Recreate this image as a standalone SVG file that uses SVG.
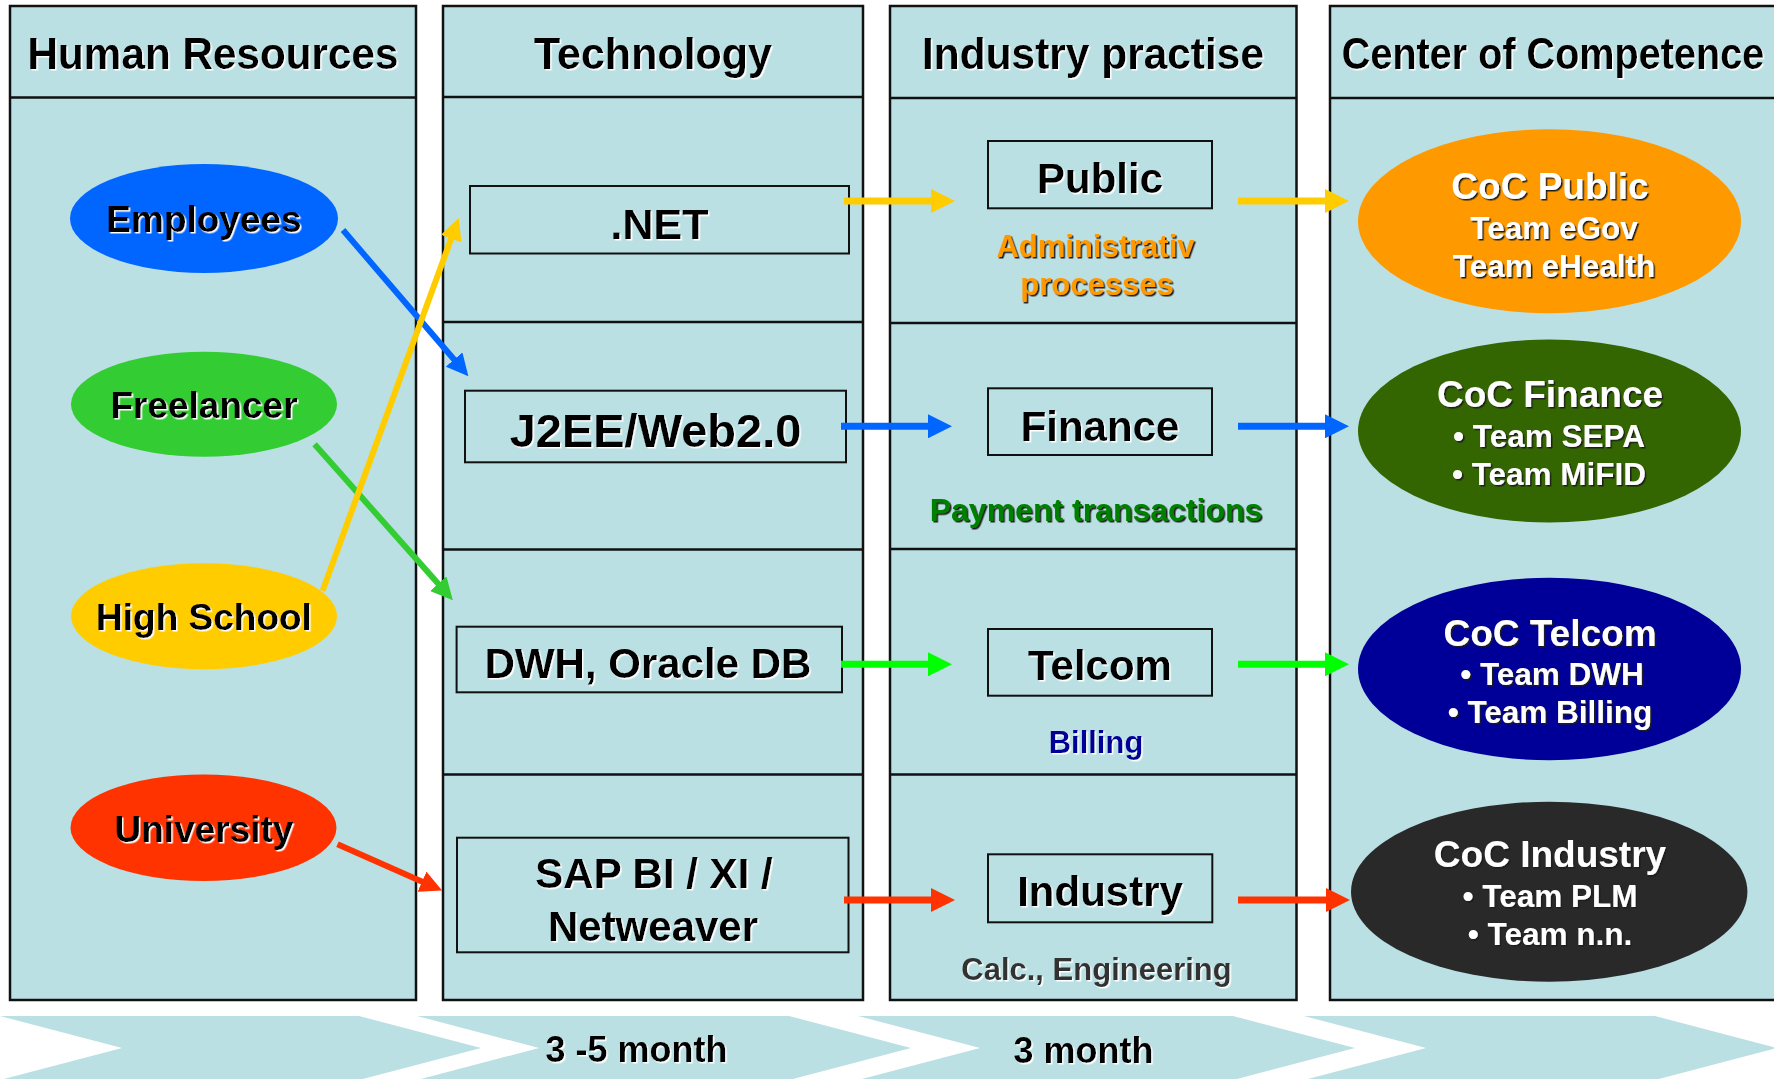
<svg xmlns="http://www.w3.org/2000/svg" width="1774" height="1079" viewBox="0 0 1774 1079">
<defs>
<style>
text{font-family:"Liberation Sans",Arial,sans-serif;font-weight:bold;text-anchor:middle}
.col{fill:#BAE0E3;stroke:#111;stroke-width:2.5}
.sep{stroke:#111;stroke-width:2.5;fill:none}
.box{fill:none;stroke:#111;stroke-width:2}
.chev{fill:#BAE0E3}
.hd{font-size:44px;fill:#000;filter:url(#sw)}
.el{font-size:37px;fill:#000;filter:url(#sw)}
.tb{fill:#000;filter:url(#sw)}
.sub{font-size:31px}
.cocT{font-size:37px;fill:#fff;filter:url(#sd)}
.cocL{font-size:31.5px;fill:#fff;filter:url(#sd)}
.bt{font-size:36px;fill:#000;filter:url(#sw)}
.ln{fill:none;stroke-width:6}
.hl{fill:none;stroke-width:7}
</style>
<filter id="sw" x="-5%" y="-20%" width="110%" height="150%"><feDropShadow dx="1.5" dy="1.5" stdDeviation="0" flood-color="#ffffff"/></filter>
<filter id="sd" x="-5%" y="-20%" width="110%" height="150%"><feDropShadow dx="1.5" dy="1.5" stdDeviation="0" flood-color="#1a1a1a"/></filter>
<marker id="mY" markerUnits="userSpaceOnUse" markerWidth="24" markerHeight="24" viewBox="0 0 24 24" refX="1" refY="12" orient="auto"><path d="M0,0 L24,12 L0,24 z" fill="#FFCC00"/></marker>
<marker id="mB" markerUnits="userSpaceOnUse" markerWidth="24" markerHeight="24" viewBox="0 0 24 24" refX="1" refY="12" orient="auto"><path d="M0,0 L24,12 L0,24 z" fill="#0066FF"/></marker>
<marker id="mG" markerUnits="userSpaceOnUse" markerWidth="24" markerHeight="24" viewBox="0 0 24 24" refX="1" refY="12" orient="auto"><path d="M0,0 L24,12 L0,24 z" fill="#00FF00"/></marker>
<marker id="mG2" markerUnits="userSpaceOnUse" markerWidth="22" markerHeight="22" viewBox="0 0 22 22" refX="1" refY="11" orient="auto"><path d="M0,0 L22,11 L0,22 z" fill="#33CC33"/></marker>
<marker id="mR" markerUnits="userSpaceOnUse" markerWidth="24" markerHeight="24" viewBox="0 0 24 24" refX="1" refY="12" orient="auto"><path d="M0,0 L24,12 L0,24 z" fill="#FF3300"/></marker>
<marker id="mY2" markerUnits="userSpaceOnUse" markerWidth="22" markerHeight="22" viewBox="0 0 22 22" refX="1" refY="11" orient="auto"><path d="M0,0 L22,11 L0,22 z" fill="#FFCC00"/></marker>
<marker id="mB2" markerUnits="userSpaceOnUse" markerWidth="22" markerHeight="22" viewBox="0 0 22 22" refX="1" refY="11" orient="auto"><path d="M0,0 L22,11 L0,22 z" fill="#0066FF"/></marker>
<marker id="mR2" markerUnits="userSpaceOnUse" markerWidth="22" markerHeight="22" viewBox="0 0 22 22" refX="1" refY="11" orient="auto"><path d="M0,0 L22,11 L0,22 z" fill="#FF3300"/></marker>
</defs>
<rect x="0" y="0" width="1774" height="1079" fill="#ffffff"/>

<g id="col-hr">
<rect class="col" x="10" y="6" width="406" height="994"/>
<line class="sep" x1="10" y1="97.5" x2="416" y2="97.5"/>
<text class="hd" x="213" y="69" textLength="371" lengthAdjust="spacingAndGlyphs">Human Resources</text>
</g>
<g id="col-tech">
<rect class="col" x="443" y="6" width="420" height="994"/>
<line class="sep" x1="443" y1="97" x2="863" y2="97"/>
<line class="sep" x1="443" y1="322" x2="863" y2="322"/>
<line class="sep" x1="443" y1="549.5" x2="863" y2="549.5"/>
<line class="sep" x1="443" y1="774.5" x2="863" y2="774.5"/>
<text class="hd" x="653" y="69" textLength="238" lengthAdjust="spacingAndGlyphs">Technology</text>
</g>
<g id="col-industry">
<rect class="col" x="890" y="6" width="406.5" height="994"/>
<line class="sep" x1="890" y1="98" x2="1296.5" y2="98"/>
<line class="sep" x1="890" y1="323" x2="1296.5" y2="323"/>
<line class="sep" x1="890" y1="549" x2="1296.5" y2="549"/>
<line class="sep" x1="890" y1="774.5" x2="1296.5" y2="774.5"/>
<text class="hd" x="1093" y="69" textLength="342" lengthAdjust="spacingAndGlyphs">Industry practise</text>
</g>
<g id="col-coc">
<rect class="col" x="1330" y="6" width="452" height="994"/>
<line class="sep" x1="1330" y1="98" x2="1782" y2="98"/>
<text class="hd" x="0" y="0" transform="translate(1553,69) scale(0.9,1)">Center of Competence</text>
</g>

<g id="timeline">
<polygon class="chev" points="0,1016 359,1016 481,1048 359,1080 0,1080 122,1048"/>
<polygon class="chev" points="417,1016 789,1016 911,1048 789,1080 417,1080 539,1048"/>
<polygon class="chev" points="858,1016 1233,1016 1355,1048 1233,1080 858,1080 980,1048"/>
<polygon class="chev" points="1304,1016 1655,1016 1777,1048 1655,1080 1304,1080 1426,1048"/>
<text class="bt" x="636.5" y="1062">3 -5 month</text>
<text class="bt" x="1083.5" y="1063">3 month</text>
</g>

<g id="tech-net">
<rect class="box" x="470" y="186" width="379" height="67.5"/>
<text class="tb" x="659.5" y="239" font-size="43">.NET</text>
</g>
<g id="tech-j2ee">
<rect class="box" x="465" y="390.7" width="381" height="71.6" stroke-width="1.5"/>
<text class="tb" x="655.5" y="447" font-size="47">J2EE/Web2.0</text>
</g>
<g id="tech-dwh">
<rect class="box" x="456.6" y="626.7" width="385.4" height="65.6"/>
<text class="tb" x="648" y="678.3" font-size="42">DWH, Oracle DB</text>
</g>
<g id="tech-sap">
<rect class="box" x="457" y="837.7" width="391.5" height="114.6"/>
<text class="tb" x="654" y="888.3" font-size="42">SAP BI / XI /</text>
<text class="tb" x="653" y="941" font-size="42">Netweaver</text>
</g>

<g id="ind-public">
<rect class="box" x="988" y="141" width="224" height="67.3"/>
<text class="tb" x="1100" y="192.7" font-size="42">Public</text>
<text class="sub" x="1095.5" y="256.7" fill="#FF9900" filter="url(#sd)">Administrativ</text>
<text class="sub" x="1097" y="295" fill="#FF9900" filter="url(#sd)">processes</text>
</g>
<g id="ind-finance">
<rect class="box" x="988" y="388.3" width="224" height="66.7"/>
<text class="tb" x="1100" y="440.7" font-size="42">Finance</text>
<text x="1096" y="520.7" font-size="32" fill="#008000" filter="url(#sd)">Payment transactions</text>
</g>
<g id="ind-telcom">
<rect class="box" x="988" y="629" width="224" height="66.7"/>
<text class="tb" x="1100" y="680" font-size="42">Telcom</text>
<text class="sub" x="1096" y="753" fill="#000099" filter="url(#sw)">Billing</text>
</g>
<g id="ind-industry">
<rect class="box" x="988" y="854.3" width="224.3" height="68"/>
<text class="tb" x="1100" y="906" font-size="42">Industry</text>
<text class="sub" x="1096.5" y="980" fill="#333333" filter="url(#sw)">Calc., Engineering</text>
</g>

<g id="connectors">
<line class="ln" x1="343" y1="230" x2="454.7" y2="360.3" stroke="#0066FF" marker-end="url(#mB2)"/>
<line class="ln" x1="314.6" y1="444.3" x2="438.9" y2="584.5" stroke="#33CC33" marker-end="url(#mG2)"/>
<line class="ln" x1="337.5" y1="844.3" x2="422.9" y2="882.1" stroke="#FF3300" marker-end="url(#mR2)"/>
<line class="ln" x1="322.6" y1="590.7" x2="451.5" y2="237.7" stroke="#FFCC00" marker-end="url(#mY2)"/>
<line class="hl" x1="844" y1="201" x2="932" y2="201" stroke="#FFCC00" marker-end="url(#mY)"/>
<line class="hl" x1="1238" y1="201" x2="1326" y2="201" stroke="#FFCC00" marker-end="url(#mY)"/>
<line class="hl" x1="841" y1="426.3" x2="929" y2="426.3" stroke="#0066FF" marker-end="url(#mB)"/>
<line class="hl" x1="1238" y1="426.3" x2="1326" y2="426.3" stroke="#0066FF" marker-end="url(#mB)"/>
<line class="hl" x1="841" y1="664.3" x2="929" y2="664.3" stroke="#00FF00" marker-end="url(#mG)"/>
<line class="hl" x1="1238" y1="664.3" x2="1326" y2="664.3" stroke="#00FF00" marker-end="url(#mG)"/>
<line class="hl" x1="844" y1="900" x2="932" y2="900" stroke="#FF3300" marker-end="url(#mR)"/>
<line class="hl" x1="1238" y1="900" x2="1327" y2="900" stroke="#FF3300" marker-end="url(#mR)"/>
</g>

<g id="hr-employees">
<ellipse cx="204" cy="218.5" rx="134" ry="54.5" fill="#0066FF"/>
<text class="el" x="204" y="231.7">Employees</text>
</g>
<g id="hr-freelancer">
<ellipse cx="204" cy="404.2" rx="133" ry="52.5" fill="#33CC33"/>
<text class="el" x="204" y="418.3">Freelancer</text>
</g>
<g id="hr-highschool">
<ellipse cx="204" cy="616.2" rx="133" ry="53" fill="#FFCC00"/>
<text class="el" x="204" y="630">High School</text>
</g>
<g id="hr-university">
<ellipse cx="203.5" cy="827.7" rx="133" ry="53.3" fill="#FF3300"/>
<text class="el" x="204" y="841.7">University</text>
</g>

<g id="coc-public">
<ellipse cx="1549.5" cy="221.3" rx="191.5" ry="92" fill="#FF9900"/>
<text class="cocT" x="1550" y="199.3">CoC Public</text>
<text class="cocL" x="1554" y="239.3">Team eGov</text>
<text class="cocL" x="1554" y="277.3">Team eHealth</text>
</g>
<g id="coc-finance">
<ellipse cx="1549.5" cy="431" rx="191.5" ry="91.5" fill="#336600"/>
<text class="cocT" x="1550" y="407.3">CoC Finance</text>
<text class="cocL" x="1549" y="447.3">• Team SEPA</text>
<text class="cocL" x="1549" y="485">• Team MiFID</text>
</g>
<g id="coc-telcom">
<ellipse cx="1549.5" cy="669" rx="191.5" ry="91.3" fill="#000099"/>
<text class="cocT" x="1550" y="645.7">CoC Telcom</text>
<text class="cocL" x="1552" y="685">• Team DWH</text>
<text class="cocL" x="1550" y="722.7">• Team Billing</text>
</g>
<g id="coc-industry">
<ellipse cx="1549.2" cy="891.7" rx="198.2" ry="90" fill="#292929"/>
<text class="cocT" x="1550" y="867.3" font-size="34">CoC Industry</text>
<text class="cocL" x="1550" y="906.7">• Team PLM</text>
<text class="cocL" x="1550" y="945">• Team n.n.</text>
</g>
</svg>
